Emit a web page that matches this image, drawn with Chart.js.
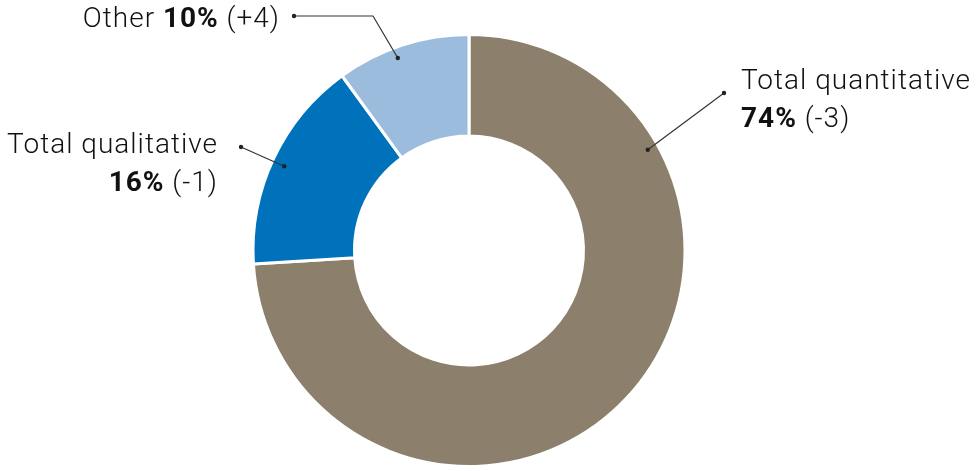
<!DOCTYPE html>
<html>
<head>
<meta charset="utf-8">
<script src="https://cdn.jsdelivr.net/npm/chart.js@4/dist/chart.umd.min.js"></script>
<style>
  html, body { margin: 0; padding: 0; background: #fff; }
  #wrap { width: 979px; height: 471px; position: relative; }
</style>
</head>
<body>
<div id="wrap"><canvas id="donut"></canvas></div>
<script>
// Données du graphique
const categories = ['Total quantitative', 'Total qualitative', 'Other'];
const shares = [74, 16, 10];
const changes = ['-3', '-1', '+4'];
const sliceColors = ['#8C806D', '#0072BC', '#9BBCDD'];

const FONT = 'Roboto, "DejaVu Sans", sans-serif';

// Position des étiquettes (texte + ligne de rappel)
const labelLayout = [
    { lines: [['Total quantitative'], ['%', ' (' + changes[0] + ')']], x: 741, y: 89, align: 'left',
      dotAngle: 60.6, dotR: 0.95, start: [724, 93] },
    { lines: [['Total qualitative'], ['%', ' (' + changes[1] + ')']], x: 218, y: 153, align: 'right',
      dotAngle: 294.5, dotR: 0.94, start: [241, 147] },
    { lines: [['Other ', '%', ' (' + changes[2] + ')']], x: 280, y: 27, align: 'right',
      dotAngle: 339.7, dotR: 0.95, start: [294, 16], elbow: [373, 16] }
];

function setFont(ctx, bold) {
    ctx.font = (bold ? '700 ' : '300 ') + '28px ' + FONT;
    ctx.letterSpacing = '1px';
}

const calloutPlugin = {
    id: 'callouts',
    afterDraw(chart) {
        const ctx = chart.ctx;
        const arc = chart.getDatasetMeta(0).data[0];
        if (!arc) return;
        const cx = arc.x, cy = arc.y, R = arc.outerRadius;
        ctx.save();
        labelLayout.forEach((lab, i) => {
            // texte
            lab.lines.forEach((parts, li) => {
                const segs = [];
                parts.forEach(p => {
                    if (p === '%') segs.push({ t: shares[i] + '%', bold: true });
                    else segs.push({ t: p, bold: false });
                });
                let total = 0;
                segs.forEach(s => {
                    setFont(ctx, s.bold);
                    s.w = ctx.measureText(s.t).width;
                    total += s.w;
                });
                let x = lab.align === 'right' ? lab.x - total : lab.x;
                const y = lab.y + li * 38;
                ctx.fillStyle = '#111';
                ctx.textBaseline = 'alphabetic';
                ctx.textAlign = 'left';
                segs.forEach(s => {
                    setFont(ctx, s.bold);
                    ctx.fillText(s.t, x, y);
                    x += s.w;
                });
            });
            ctx.letterSpacing = '0px';
            // ligne de rappel
            const a = lab.dotAngle * Math.PI / 180;
            const dx = cx + Math.sin(a) * R * lab.dotR;
            const dy = cy - Math.cos(a) * R * lab.dotR;
            ctx.strokeStyle = '#333';
            ctx.lineWidth = 1.2;
            ctx.beginPath();
            ctx.moveTo(lab.start[0], lab.start[1]);
            if (lab.elbow) ctx.lineTo(lab.elbow[0], lab.elbow[1]);
            ctx.lineTo(dx, dy);
            ctx.stroke();
            ctx.fillStyle = '#222';
            [lab.start, [dx, dy]].forEach(p => {
                ctx.beginPath();
                ctx.arc(p[0], p[1], 2.2, 0, Math.PI * 2);
                ctx.fill();
            });
        });
        ctx.restore();
    }
};

document.addEventListener('DOMContentLoaded', function() {
    const ctx = document.getElementById('donut').getContext('2d');
    new Chart(ctx, {
        type: 'doughnut',
        data: {
            labels: categories,
            datasets: [{
                data: shares,
                backgroundColor: sliceColors,
                borderColor: '#ffffff',
                borderWidth: 3,
                hoverOffset: 0
            }]
        },
        options: {
            responsive: true,
            maintainAspectRatio: false,
            animation: false,
            cutout: '53%',
            layout: { padding: { top: 33, bottom: 3, left: 0, right: 41 } },
            plugins: {
                legend: { display: false },
                tooltip: { enabled: false }
            }
        },
        plugins: [calloutPlugin]
    });
});
</script>
</body>
</html>
